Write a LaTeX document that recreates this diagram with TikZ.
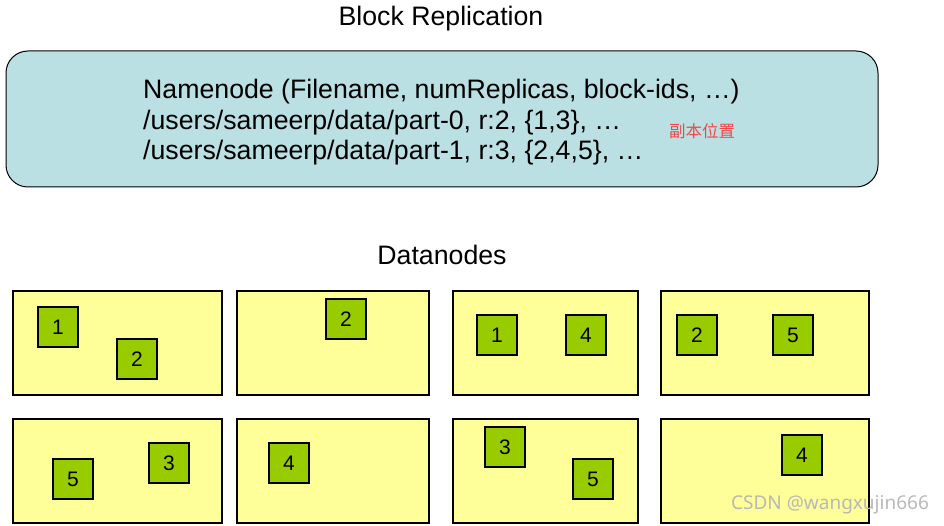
\documentclass[tikz,border=0pt]{standalone}
\usepackage{fontspec}
\setmainfont{Liberation Sans}
\newfontfamily\cjkfont{Noto Sans CJK SC}
\newfontfamily\wmfont{Noto Sans}
\definecolor{nnfill}{HTML}{BBE0E3}
\definecolor{dnfill}{HTML}{FFFF99}
\definecolor{blkfill}{HTML}{99CC00}
\definecolor{redtxt}{HTML}{F04848}
\definecolor{wmgray}{HTML}{B8B8B8}
\begin{document}
\begin{tikzpicture}[x=1pt,y=-1pt,
  bigtext/.style={font=\fontsize{26.7}{31}\selectfont, inner sep=0pt},
  dnbox/.style={draw=black, line width=1.1pt, fill=dnfill},
  blk/.style={draw=black, line width=1.1pt, fill=blkfill, minimum width=40pt, minimum height=40pt, inner sep=0pt, font=\fontsize{21}{24}\selectfont},
  nnbox/.style={draw=black, line width=1pt, fill=nnfill, rounded corners=22pt}]
\useasboundingbox (0,0) rectangle (944,526);
% title
\node[bigtext, anchor=base] (title) at (441,25.5) {Block Replication};
% namenode
\draw[nnbox] (6,51) rectangle (878,187);
\node[bigtext, anchor=base west] (nn1) at (143,99) {Namenode (Filename, numReplicas, block-ids, …)};
\node[bigtext, anchor=base west] (nn2) at (143,129.5) {/users/sameerp/data/part-0, r:2, \{1,3\}, …};
\node[bigtext, anchor=base west] (nn3) at (143,160) {/users/sameerp/data/part-1, r:3, \{2,4,5\}, …};
\node[font=\cjkfont\fontsize{16.5}{18}\selectfont, text=redtxt, inner sep=0pt] (rep) at (702,131) {副本位置};
% datanodes label
\node[bigtext, anchor=base] (dnlabel) at (442,265) {Datanodes};
% datanode boxes
\draw[dnbox] (13,291) rectangle (222,395);
\draw[dnbox] (237,291) rectangle (429,395);
\draw[dnbox] (453,291) rectangle (638,395);
\draw[dnbox] (661,291) rectangle (869,395);
\draw[dnbox] (13,419) rectangle (222,523);
\draw[dnbox] (237,419) rectangle (429,523);
\draw[dnbox] (453,419) rectangle (638,523);
\draw[dnbox] (661,419) rectangle (869,523);
% blocks
\node[blk] (a1) at (58,327) {1};
\node[blk] (a2) at (137,359) {2};
\node[blk] (b2) at (346,319) {2};
\node[blk] (c1) at (497,335) {1};
\node[blk] (c4) at (586,335) {4};
\node[blk] (d2) at (697,335) {2};
\node[blk] (d5) at (793,335) {5};
\node[blk] (e5) at (73,479) {5};
\node[blk] (e3) at (169,463) {3};
\node[blk] (f4) at (289,463) {4};
\node[blk] (g3) at (505,447) {3};
\node[blk] (g5) at (593,479) {5};
\node[blk] (h4) at (802,455) {4};
% watermark
\node[font=\wmfont\fontsize{19}{22}\selectfont, text=wmgray, inner sep=0pt] (wm) at (830,505) {CSDN @wangxujin666};
\end{tikzpicture}
\end{document}
